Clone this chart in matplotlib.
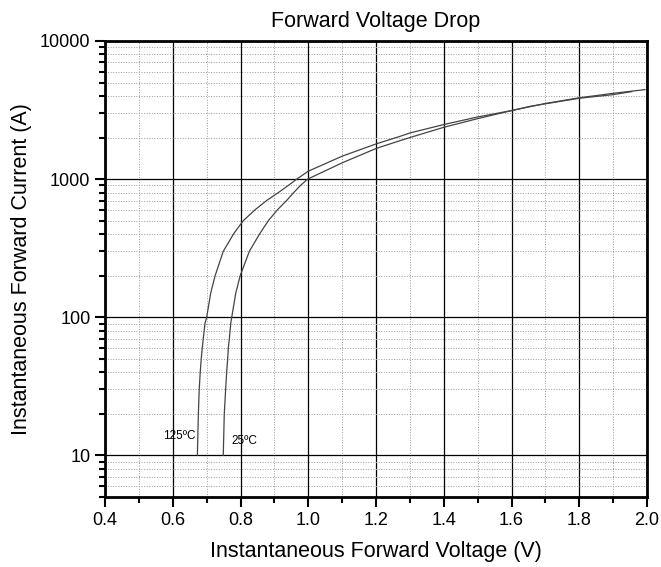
import numpy as np
import matplotlib.pyplot as plt
from matplotlib.ticker import LogLocator, NullFormatter, MultipleLocator, FixedLocator

plt.rcParams['font.family'] = ['Liberation Sans', 'DejaVu Sans']

# 125 C curve (V, A)
v_125 = [0.6726, 0.6755, 0.678, 0.681, 0.684, 0.687, 0.690, 0.695, 0.700, 0.712,
         0.725, 0.749, 0.779, 0.808, 0.843, 0.877, 0.912, 0.941, 0.966, 1.0,
         1.1, 1.2, 1.271, 1.3, 1.4, 1.5, 1.6, 1.655, 1.7, 1.8, 1.9, 1.955]
i_125 = [10, 20, 30, 40, 50, 60, 70, 90, 100, 150,
         200, 300, 400, 500, 600, 700, 800, 900, 1000, 1142,
         1466, 1798, 2041, 2158, 2484, 2818, 3135, 3365, 3510, 3850, 4090, 4300]

# 25 C curve (V, A)
v_25 = [0.749, 0.752, 0.756, 0.759, 0.762, 0.764, 0.767, 0.771, 0.774, 0.786,
        0.799, 0.826, 0.856, 0.882, 0.909, 0.936, 0.957, 0.977, 0.998, 1.1,
        1.2, 1.271, 1.3, 1.4, 1.5, 1.6, 1.7, 1.8, 1.9, 1.994]
i_25 = [10, 20, 30, 40, 50, 60, 70, 90, 100, 150,
        200, 300, 400, 500, 600, 700, 800, 900, 1000, 1312,
        1666, 1900, 2000, 2373, 2741, 3135, 3530, 3880, 4180, 4446]

x_ticks = [0.4, 0.6, 0.8, 1.0, 1.2, 1.4, 1.6, 1.8, 2.0]
y_ticks = [10, 100, 1000, 10000]

fig = plt.figure(figsize=(6.61, 5.67), dpi=100)
ax = fig.add_axes([0.1589, 0.1235, 0.8200, 0.8042])

ax.plot(v_125, i_125, color='#444444', lw=0.9)
ax.plot(v_25, i_25, color='#444444', lw=0.9)

ax.set_yscale('log')
ax.set_xlim(0.4, 2.0)
ax.set_ylim(5, 10000)

ax.xaxis.set_major_locator(FixedLocator(x_ticks))
ax.xaxis.set_minor_locator(MultipleLocator(0.1))
ax.set_xticklabels(['%.1f' % v for v in x_ticks])
ax.yaxis.set_major_locator(FixedLocator(y_ticks))
ax.set_yticklabels([str(v) for v in y_ticks])
ax.yaxis.set_minor_locator(LogLocator(base=10, subs=np.arange(2, 10)))
ax.yaxis.set_minor_formatter(NullFormatter())

ax.grid(which='major', color='black', lw=0.9)
ax.grid(which='minor', color='#999999', lw=0.7, ls=':')

ax.tick_params(which='major', direction='out', length=7, width=1.5, labelsize=13)
ax.tick_params(which='minor', direction='out', length=4, width=1.5)
for s in ax.spines.values():
    s.set_linewidth(2)

ax.text(0.668, 12.5, '125ºC', fontsize=8.5, ha='right', va='bottom')
ax.text(0.774, 11.5, '25ºC', fontsize=8.5, ha='left', va='bottom')

ax.set_title('Forward Voltage Drop', fontsize=15.5, pad=10)
ax.set_xlabel('Instantaneous Forward Voltage (V)', fontsize=15.5, labelpad=9)
ax.set_ylabel('Instantaneous Forward Current (A)', fontsize=15.5, labelpad=6)

fig.savefig('out.png', dpi=100)
